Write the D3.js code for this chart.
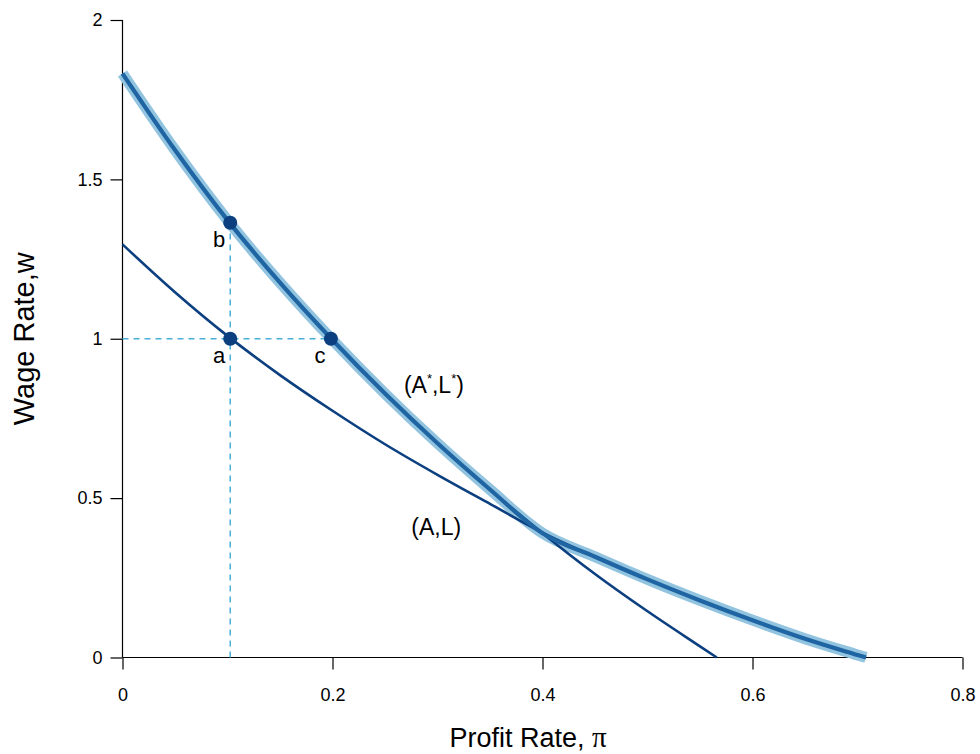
<!DOCTYPE html>
<html>
<head>
<meta charset="utf-8">
<script src="https://cdn.jsdelivr.net/npm/d3@7"></script>
<style>
  body { margin: 0; background: #fff; }
  svg { display: block; font-family: "Liberation Sans", Arial, sans-serif; }
  .axis path, .axis line { stroke: #000; stroke-width: 1.2; }
</style>
</head>
<body>
<svg width="980" height="754"></svg>
<script>
// profit rate grid and wage readings for the two techniques
var piStar = [0, 0.05, 0.1, 0.15, 0.2, 0.25, 0.3, 0.35, 0.4, 0.45, 0.5, 0.55, 0.566];
var wStar  = [1.832, 1.592, 1.372, 1.176, 0.996, 0.828, 0.672, 0.527, 0.39, 0.262, 0.145, 0.035, 0];

var piBase = [0, 0.05, 0.1, 0.15, 0.2, 0.25, 0.3, 0.35, 0.4, 0.45, 0.5, 0.55, 0.6, 0.65, 0.7, 0.708];
var wBase  = [1.296, 1.146, 1.009, 0.886, 0.774, 0.669, 0.573, 0.482, 0.392, 0.316, 0.245, 0.179, 0.117, 0.059, 0.008, 0];

// marked points a, b, c
var ptNames = ['a', 'b', 'c'];
var ptPi    = [0.1026, 0.1026, 0.1985];
var ptW     = [1, 1.364, 1];

var xTicks = [0, 0.2, 0.4, 0.6, 0.8];
var yTicks = [0, 0.5, 1, 1.5, 2];
var switchPi = 0.4;

var svg = d3.select('svg');

var x = d3.scaleLinear().domain([0, 0.8]).range([122.5, 962.5]),
    y = d3.scaleLinear().domain([0, 2]).range([657.5, 20]);

var starData = piStar.map(function(p, i) { return {pi: p, w: wStar[i]}; }),
    baseData = piBase.map(function(p, i) { return {pi: p, w: wBase[i]}; });

// outer frontier: A*,L* up to the switch point, then A,L
var envelope = starData.filter(function(d) { return d.pi <= switchPi; })
  .concat(baseData.filter(function(d) { return d.pi > switchPi; }));

var line = d3.line()
  .x(function(d) { return x(d.pi); })
  .y(function(d) { return y(d.w); })
  .curve(d3.curveMonotoneX);

// axes
svg.append('g')
  .attr('class', 'axis')
  .attr('transform', 'translate(0,' + y(0) + ')')
  .call(d3.axisBottom(x).tickValues(xTicks).tickSize(12).tickPadding(19)
    .tickFormat(function(d) { return String(d); }))
  .call(function(g) { g.select('.domain').attr('d', 'M' + x(0) + ',0H' + x(0.8)); })
  .attr('font-size', 18).attr('font-family', '"Liberation Sans", Arial, sans-serif');

svg.append('g')
  .attr('class', 'axis')
  .attr('transform', 'translate(' + x(0) + ',0)')
  .call(d3.axisLeft(y).tickValues(yTicks).tickSize(12).tickPadding(8)
    .tickFormat(function(d) { return String(d); }))
  .call(function(g) { g.select('.domain').attr('d', 'M0,' + y(0) + 'V' + y(2)); })
  .attr('font-size', 18).attr('font-family', '"Liberation Sans", Arial, sans-serif');

// halo along the frontier
svg.append('path')
  .datum(envelope)
  .attr('d', line)
  .attr('fill', 'none')
  .attr('stroke', '#92c4e0')
  .attr('stroke-width', 11);

// the two wage curves
[starData, baseData].forEach(function(data) {
  svg.append('path')
    .datum(data)
    .attr('d', line)
    .attr('fill', 'none')
    .attr('stroke', '#0b3f80')
    .attr('stroke-width', 2.6);
});

svg.append('path')
  .datum(envelope)
  .attr('d', line)
  .attr('fill', 'none')
  .attr('stroke', '#1f65a3')
  .attr('stroke-width', 4.2);

// dashed guides
svg.append('line')
  .attr('x1', x(0)).attr('x2', x(ptPi[2]))
  .attr('y1', y(ptW[0])).attr('y2', y(ptW[0]))
  .attr('stroke', '#4aafd8').attr('stroke-width', 1.5)
  .attr('stroke-dasharray', '6,5');

svg.append('line')
  .attr('x1', x(ptPi[0])).attr('x2', x(ptPi[0]))
  .attr('y1', y(0)).attr('y2', y(ptW[1]))
  .attr('stroke', '#4aafd8').attr('stroke-width', 1.5)
  .attr('stroke-dasharray', '6,5');

// points and their letters
svg.selectAll('.pt')
  .data(ptNames)
  .enter().append('circle')
    .attr('class', 'pt')
    .attr('cx', function(d, i) { return x(ptPi[i]); })
    .attr('cy', function(d, i) { return y(ptW[i]); })
    .attr('r', 7)
    .attr('fill', '#0b3f80');

svg.selectAll('.ptlab')
  .data(ptNames)
  .enter().append('text')
    .attr('class', 'ptlab')
    .attr('x', function(d, i) { return x(ptPi[i]) - 11; })
    .attr('y', function(d, i) { return y(ptW[i]) + 24; })
    .attr('text-anchor', 'middle')
    .attr('font-size', 22)
    .text(function(d) { return d; });

// curve labels
var lab1 = svg.append('text')
  .attr('x', x(0.268)).attr('y', y(0.83))
  .attr('font-size', 23);
lab1.append('tspan').text('(A');
lab1.append('tspan').attr('dy', -10).attr('font-size', 13).text('*');
lab1.append('tspan').attr('dy', 10).text(',L');
lab1.append('tspan').attr('dy', -10).attr('font-size', 13).text('*');
lab1.append('tspan').attr('dy', 10).text(')');

svg.append('text')
  .attr('x', x(0.275)).attr('y', y(0.385))
  .attr('font-size', 23)
  .text('(A,L)');

// axis titles
var xt = svg.append('text')
  .attr('x', 528).attr('y', 747)
  .attr('text-anchor', 'middle')
  .attr('font-size', 27)
  .text('Profit Rate, ');
xt.append('tspan').attr('font-family', '"Liberation Serif", serif').attr('font-size', 29).text('π');

svg.append('text')
  .attr('transform', 'translate(34,' + y(1) + ') rotate(-90)')
  .attr('text-anchor', 'middle')
  .attr('font-size', 29)
  .text('Wage Rate,w');
</script>
</body>
</html>
